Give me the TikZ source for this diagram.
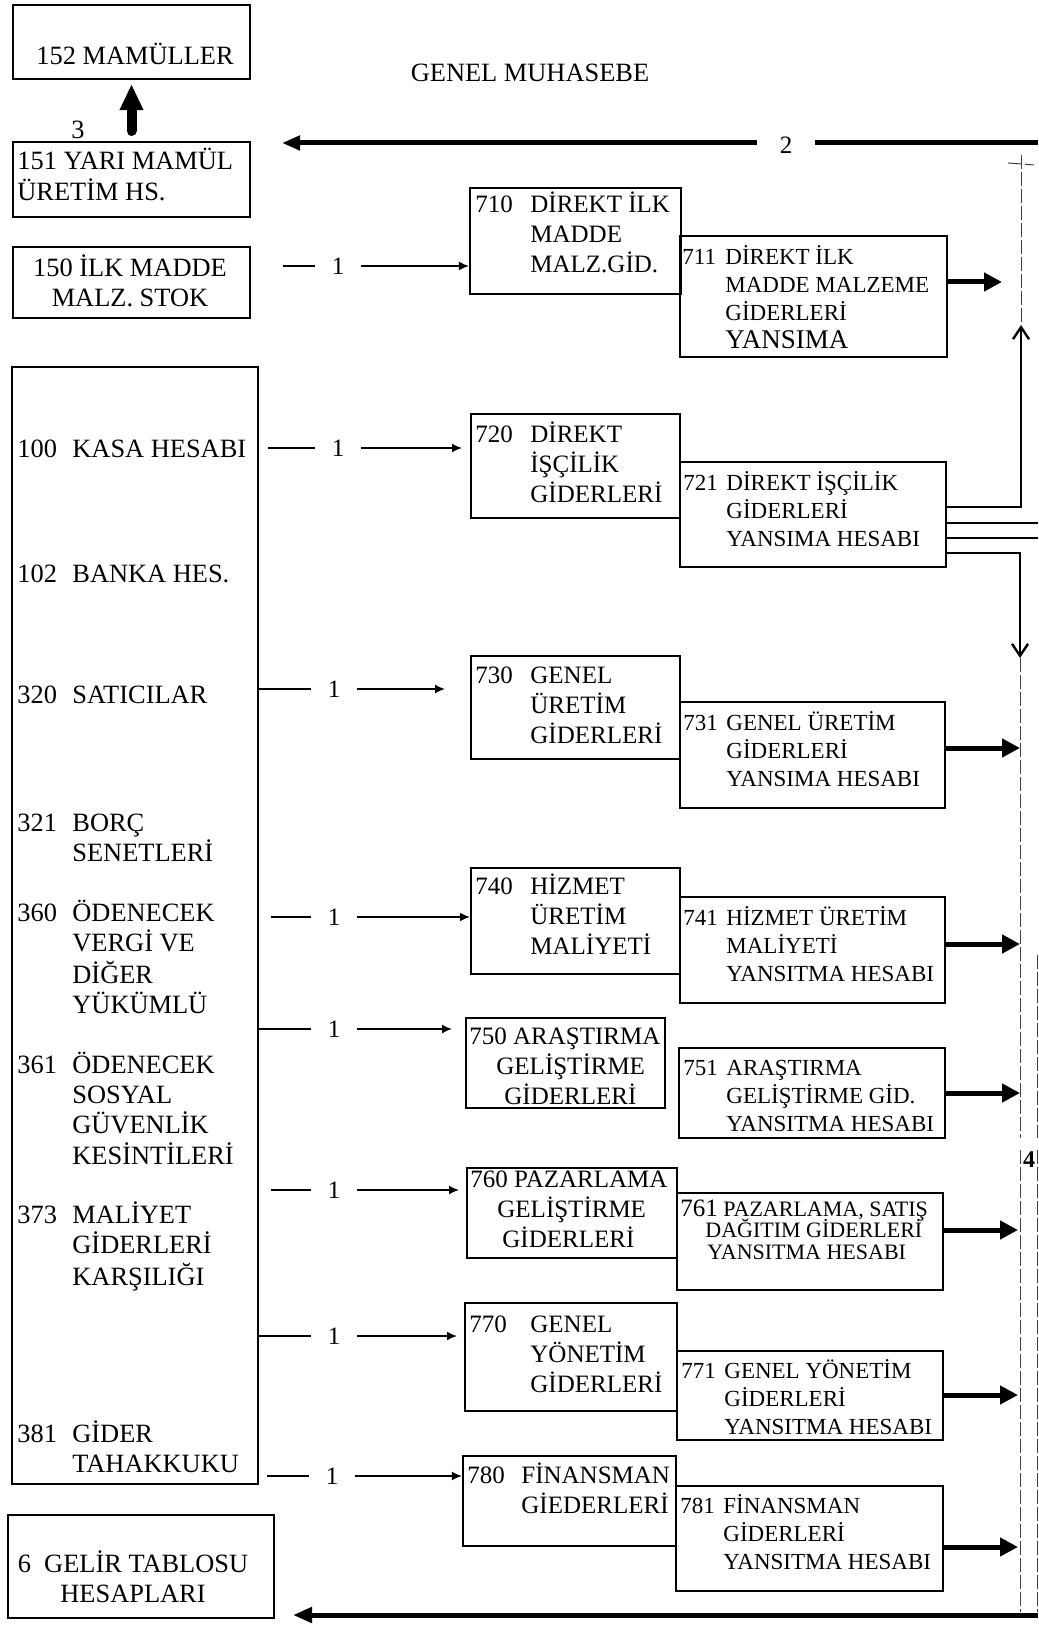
\documentclass[tikz,border=0pt]{standalone}
\usepackage{fontspec}
\setmainfont{Liberation Serif}
\usetikzlibrary{arrows.meta,fit}

\newcommand{\satir}[2]{\begin{tabular}[t]{@{}p{#1}@{}l@{}}#2\end{tabular}}
\newcommand{\orta}[1]{\begin{tabular}[t]{@{}c@{}}#1\end{tabular}}
\newcommand{\sol}[1]{\begin{tabular}[t]{@{}l@{}}#1\end{tabular}}

\tikzset{
  hesap/.style={draw, line width=1.1pt, inner sep=0pt},
  buyuk/.style={anchor=base west, inner sep=0pt, font=\fontsize{13.2}{15}\selectfont},
  yazi/.style={anchor=base west, inner sep=0pt, font=\fontsize{12.5}{15}\selectfont},
  kucuk/.style={anchor=base west, inner sep=0pt, font=\fontsize{11.5}{14}\selectfont},
  bir/.style={inner xsep=8pt, inner ysep=0pt, font=\fontsize{12.5}{14}\selectfont},
  cizgi/.style={line width=0.8pt},
  ince/.style={line width=0.8pt, -{Latex[length=5pt,width=4.5pt]}},
  kalin/.style={line width=2.5pt, -{Triangle[length=9pt,width=9pt]}},
  barb/.style={line width=1.2pt, -{Straight Barb[length=6pt,width=8pt]}},
  toplama/.style={line width=0.5pt, black!75, dash pattern=on 7pt off 1.5pt}
}

\begin{document}
\begin{tikzpicture}[x=0.5pt, y=-0.5pt]
    \useasboundingbox (0,0) rectangle (1038,1625);

    % Title
    \node[buyuk, anchor=base] (baslik) at (530,82) {GENEL MUHASEBE};

    % Stock accounts
    \node[hesap, fit={(13,5) (250,79)}] (b152) {};
    \node[buyuk, anchor=base] (t152) at (135,65) {152 MAMÜLLER};
    \node[hesap, fit={(13,142) (250,217)}] (b151) {};
    \node[buyuk] (t151) at (17,170) {\sol{151 YARI MAMÜL\\ÜRETİM HS.}};
    \node[hesap, fit={(13,247) (250,318)}] (b150) {};
    \node[buyuk, anchor=base] (t150) at (130,277) {\orta{150 İLK MADDE\\MALZ. STOK}};

    \draw[line width=5pt, line cap=round, -{Triangle[length=13pt,width=11pt]}] ([yshift=5pt]b151.north) -- ([yshift=-2pt]b152.south);
    \node[buyuk, anchor=base] (n3) at (78,139) {3};

    % Left column
    \node[hesap, fit={(12,367) (258,1484)}] (bsol) {};
    \node[buyuk] (t100) at (17,458) {\satir{27.5pt}{100 & KASA HESABI}};
    \node[buyuk] (t102) at (17,582) {\satir{27.5pt}{102 & BANKA HES.}};
    \node[buyuk] (t320) at (17,703) {\satir{27.5pt}{320 & SATICILAR}};
    \node[buyuk] (t321) at (17,831) {\satir{27.5pt}{321 & BORÇ\\ & SENETLERİ}};
    \node[buyuk] (t360) at (17,921) {\satir{27.5pt}{360 & ÖDENECEK\\ & VERGİ VE\\ & DİĞER\\ & YÜKÜMLÜ}};
    \node[buyuk] (t361) at (17,1073) {\satir{27.5pt}{361 & ÖDENECEK\\ & SOSYAL\\ & GÜVENLİK\\ & KESİNTİLERİ}};
    \node[buyuk] (t373) at (17,1223) {\satir{27.5pt}{373 & MALİYET\\ & GİDERLERİ\\ & KARŞILIĞI}};
    \node[buyuk] (t381) at (17,1442) {\satir{27.5pt}{381 & GİDER\\ & TAHAKKUKU}};

    \node[hesap, fit={(8,1515) (274,1618)}] (b6) {};
    \node[buyuk, anchor=base] (t6) at (133,1572) {\orta{6~~GELİR TABLOSU\\HESAPLARI}};

    % Cost accounts
    \node[hesap, fit={(470,188) (681,294)}] (b710) {};
    \node[yazi] (t710) at (475,213) {\satir{27.5pt}{710 & DİREKT İLK\\ & MADDE\\ & MALZ.GİD.}};
    \node[hesap, fit={(680,236) (947,357)}] (b711) {};
    \node[kucuk] (t711) at (682,265) {\satir{21.5pt}{711 & DİREKT İLK\\ & MADDE MALZEME\\ & GİDERLERİ\\ & {\fontsize{13.5}{14}\selectfont YANSIMA}}};

    \node[hesap, fit={(471,414) (680,518)}] (b720) {};
    \node[yazi] (t720) at (475,443) {\satir{27.5pt}{720 & DİREKT\\ & İŞÇİLİK\\ & GİDERLERİ}};
    \node[hesap, fit={(680,462) (946,567)}] (b721) {};
    \node[kucuk] (t721) at (683,491) {\satir{21.5pt}{721 & DİREKT İŞÇİLİK\\ & GİDERLERİ\\ & YANSIMA HESABI}};

    \node[hesap, fit={(471,656) (680,759)}] (b730) {};
    \node[yazi] (t730) at (475,683) {\satir{27.5pt}{730 & GENEL\\ & ÜRETİM\\ & GİDERLERİ}};
    \node[hesap, fit={(680,702) (945,808)}] (b731) {};
    \node[kucuk] (t731) at (683,730) {\satir{21.5pt}{731 & GENEL ÜRETİM\\ & GİDERLERİ\\ & YANSIMA HESABI}};

    \node[hesap, fit={(471,868) (680,974)}] (b740) {};
    \node[yazi] (t740) at (475,894) {\satir{27.5pt}{740 & HİZMET\\ & ÜRETİM\\ & MALİYETİ}};
    \node[hesap, fit={(680,897) (945,1003)}] (b741) {};
    \node[kucuk] (t741) at (683,925) {\satir{21.5pt}{741 & HİZMET ÜRETİM\\ & MALİYETİ\\ & YANSITMA HESABI}};

    \node[hesap, fit={(466,1018) (665,1108)}] (b750) {};
    \node[yazi] (t750) at (469,1044) {\sol{750 ARAŞTIRMA\\\hspace*{13.5pt}GELİŞTİRME\\\hspace*{17.5pt}GİDERLERİ}};
    \node[hesap, fit={(679,1048) (945,1138)}] (b751) {};
    \node[kucuk] (t751) at (683,1075) {\satir{21.5pt}{751 & ARAŞTIRMA\\ & GELİŞTİRME GİD.\\ & YANSITMA HESABI}};

    \node[hesap, fit={(467,1168) (677,1258)}] (b760) {};
    \node[yazi] (t760) at (470,1187) {\sol{760 PAZARLAMA\\\hspace*{13.5pt}GELİŞTİRME\\\hspace*{16pt}GİDERLERİ}};
    \node[hesap, fit={(677,1193) (943,1290)}] (b761) {};
    \node[anchor=base west, inner sep=0pt, font=\fontsize{11}{10.8}\selectfont] (t761) at (680,1216)
        {\sol{\smash{{\fontsize{12.5}{10}\selectfont 761} PAZARLAMA, SATIŞ}\\\hspace*{12.5pt}\smash{DAĞITIM GİDERLERİ}\\\hspace*{13.5pt}\smash{YANSITMA HESABI}}};

    \node[hesap, fit={(465,1303) (677,1411)}] (b770) {};
    \node[yazi] (t770) at (469,1332) {\satir{30.5pt}{770 & GENEL\\ & YÖNETİM\\ & GİDERLERİ}};
    \node[hesap, fit={(677,1351) (943,1440)}] (b771) {};
    \node[kucuk] (t771) at (681,1378) {\satir{21.5pt}{771 & GENEL YÖNETİM\\ & GİDERLERİ\\ & YANSITMA HESABI}};

    \node[hesap, fit={(463,1456) (676,1546)}] (b780) {};
    \node[yazi] (t780) at (467,1483) {\satir{27pt}{780 & FİNANSMAN\\ & GİEDERLERİ}};
    \node[hesap, fit={(676,1486) (943,1591)}] (b781) {};
    \node[kucuk] (t781) at (680,1513) {\satir{21.5pt}{781 & FİNANSMAN\\ & GİDERLERİ\\ & YANSITMA HESABI}};

    % Entries 1
    \coordinate (c150) at (283,266);
    \node[bir] (n150) at (338,266) {1};
    \draw[cizgi] (c150) -- (n150);
    \draw[ince] (n150) -- (n150 -| b710.west);

    \coordinate (c100) at (268,448);
    \coordinate (u100) at (462,448);
    \node[bir] (n100) at (338,448) {1};
    \draw[cizgi] (c100) -- (n100);
    \draw[ince] (n100) -- (u100);

    \coordinate (u320) at (445,689);
    \node[bir] (n320) at (334,689) {1};
    \draw[cizgi] (bsol.east |- n320) -- (n320);
    \draw[ince] (n320) -- (u320);

    \coordinate (c360) at (271,917);
    \node[bir] (n360) at (334,917) {1};
    \draw[cizgi] (c360) -- (n360);
    \draw[ince] (n360) -- (n360 -| b740.west);

    \coordinate (u750) at (452,1029);
    \node[bir] (n750) at (334,1029) {1};
    \draw[cizgi] (bsol.east |- n750) -- (n750);
    \draw[ince] (n750) -- (u750);

    \coordinate (c760) at (271,1190);
    \coordinate (u760) at (459,1190);
    \node[bir] (n760) at (334,1190) {1};
    \draw[cizgi] (c760) -- (n760);
    \draw[ince] (n760) -- (u760);

    \coordinate (u770) at (457,1336);
    \node[bir] (n770) at (334,1336) {1};
    \draw[cizgi] (bsol.east |- n770) -- (n770);
    \draw[ince] (n770) -- (u770);

    \coordinate (c780) at (267,1476);
    \node[bir] (n780) at (332,1476) {1};
    \draw[cizgi] (c780) -- (n780);
    \draw[ince] (n780) -- (n780 -| b780.west);

    % Entry 2
    \coordinate (sag2) at (1038,143);
    \coordinate (u2) at (282,143);
    \node[bir, inner xsep=11pt] (n2) at (786,145) {2};
    \draw[line width=2.5pt] (sag2) -- (sag2 -| n2.east);
    \draw[line width=2.5pt, -{Triangle[length=9pt,width=7pt]}] (u2 -| n2.west) -- (u2);

    % Transfers 4
    \coordinate (k711) at (1002,282);
    \coordinate (k731) at (1020,748);
    \coordinate (k741) at (1020,944);
    \coordinate (k751) at (1020,1093);
    \coordinate (k761) at (1018,1230);
    \coordinate (k771) at (1018,1395);
    \coordinate (k781) at (1018,1547);
    \draw[kalin] (b711.east |- k711) -- (k711);
    \draw[kalin] (b731.east |- k731) -- (k731);
    \draw[kalin] (b741.east |- k741) -- (k741);
    \draw[kalin] (b751.east |- k751) -- (k751);
    \draw[kalin] (b761.east |- k761) -- (k761);
    \draw[kalin] (b771.east |- k771) -- (k771);
    \draw[kalin] (b781.east |- k781) -- (k781);

    \coordinate (d1) at (1021,507);
    \coordinate (d1u) at (1021,325);
    \coordinate (d2) at (1038,523);
    \coordinate (d3) at (1038,538);
    \coordinate (d4) at (1020,553);
    \coordinate (d4a) at (1020,658);
    \draw[barb] (b721.east |- d1) -- (d1) -- (d1u);
    \draw[cizgi] (b721.east |- d2) -- (d2);
    \draw[cizgi] (b721.east |- d3) -- (d3);
    \draw[barb] (b721.east |- d4) -- (d4) -- (d4a);

    % Collector lines
    \draw[toplama] (1021,155) -- (1021,325);
    \draw[toplama] (1008,163) -- (1034,165);
    \draw[toplama] (1020,658) -- (1020,1138);
    \draw[toplama] (1020,1150) -- (1020,1612);
    \draw[toplama] (1037,955) -- (1037,1138);
    \draw[toplama] (1037,1150) -- (1037,1612);
    \node[yazi, anchor=base, font=\fontsize{12}{14}\selectfont\bfseries] (n4) at (1029,1167) {4};

    % Result
    \coordinate (sag4) at (1038,1615);
    \coordinate (u6) at (293,1615);
    \draw[line width=2.5pt, -{Triangle[length=9.5pt,width=7.5pt]}] (sag4) -- (u6);
\end{tikzpicture}
\end{document}
